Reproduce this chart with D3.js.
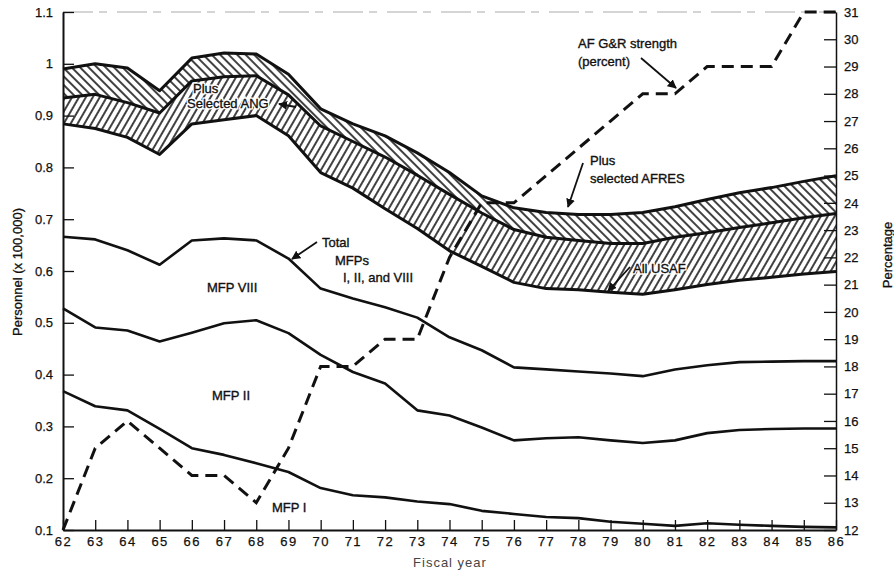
<!DOCTYPE html>
<meta charset="utf-8">
<style>
body { margin: 0; background: #fff; }
text { font-family: "Liberation Sans", Arial, sans-serif; font-size: 13px; fill: #111; }
.axis path, .axis line { stroke: #111; }
.axis text { font-size: 13px; fill: #111; stroke: #111; stroke-width: 0.25px; }
.band-line { fill: none; stroke: #111; stroke-width: 3px; stroke-linejoin: round; }
.mfp-line { fill: none; stroke: #111; stroke-width: 2.6px; stroke-linejoin: round; }
.pct-line { fill: none; stroke: #111; stroke-width: 3px; stroke-dasharray: 12,7; }
.note { fill: #111; stroke: #111; stroke-width: 0.35px; }
.halo { fill: #fff; stroke: #fff; stroke-width: 3px; }
.title { stroke: #111; stroke-width: 0.3px; }
.pointer { stroke: #111; stroke-width: 1.8px; fill: none; }
</style>
<svg width="894" height="571"></svg>
<script src="https://d3js.org/d3.v7.min.js"></script>
<script>

// fiscal years (19xx)
var years = [62, 63, 64, 65, 66, 67, 68, 69, 70, 71, 72, 73, 74, 75, 76, 77, 78, 79, 80, 81, 82, 83, 84, 85, 86];

// personnel (x 100,000), cumulative lines
var mfpI      = [0.368, 0.339, 0.331, 0.295, 0.258, 0.245, 0.229, 0.212, 0.181, 0.167, 0.163, 0.155, 0.150, 0.137, 0.131, 0.125, 0.123, 0.116, 0.112, 0.108, 0.113, 0.110, 0.108, 0.106, 0.105];
var mfpII     = [0.528, 0.491, 0.485, 0.464, 0.481, 0.499, 0.505, 0.480, 0.438, 0.405, 0.383, 0.331, 0.321, 0.298, 0.273, 0.277, 0.279, 0.273, 0.268, 0.273, 0.287, 0.293, 0.295, 0.296, 0.296];
var totalMfp  = [0.666, 0.661, 0.640, 0.612, 0.659, 0.663, 0.659, 0.624, 0.566, 0.547, 0.530, 0.510, 0.472, 0.447, 0.414, 0.410, 0.406, 0.402, 0.397, 0.410, 0.418, 0.424, 0.425, 0.426, 0.426];
var allUsaf   = [0.884, 0.875, 0.858, 0.825, 0.884, 0.892, 0.900, 0.861, 0.790, 0.760, 0.720, 0.682, 0.639, 0.609, 0.578, 0.566, 0.564, 0.559, 0.555, 0.564, 0.574, 0.582, 0.588, 0.594, 0.599];
var plusAng   = [0.934, 0.941, 0.925, 0.905, 0.967, 0.975, 0.977, 0.940, 0.880, 0.850, 0.820, 0.785, 0.748, 0.712, 0.680, 0.665, 0.659, 0.653, 0.653, 0.665, 0.674, 0.684, 0.693, 0.703, 0.711];
var plusAfres = [0.990, 1.000, 0.992, 0.948, 1.011, 1.021, 1.019, 0.980, 0.913, 0.884, 0.861, 0.828, 0.790, 0.745, 0.722, 0.713, 0.709, 0.709, 0.713, 0.724, 0.738, 0.751, 0.761, 0.773, 0.784];

// AF G&R strength (percent), right axis
var grPercent = [12, 15, 16, 15, 14, 14, 13, 15, 18, 18, 19, 19, 22, 24, 24, 25, 26, 27, 28, 28, 29, 29, 29, 31, 31];

var leftTicks  = [0.1, 0.2, 0.3, 0.4, 0.5, 0.6, 0.7, 0.8, 0.9, 1.0, 1.1];
var leftLabels = ["0.1", "0.2", "0.3", "0.4", "0.5", "0.6", "0.7", "0.8", "0.9", "1", "1.1"];
var rightTicks = [12, 13, 14, 15, 16, 17, 18, 19, 20, 21, 22, 23, 24, 25, 26, 27, 28, 29, 30, 31];

var svg = d3.select("svg");

var x = d3.scaleLinear().domain([62, 86]).range([63, 836]);
var y = d3.scaleLinear().domain([0.1, 1.1]).range([530, 12]);
var yPct = d3.scaleLinear().domain([12, 31]).range([530, 12]);

var defs = svg.append("defs");

function hatch(id, angle) {
  defs.append("pattern")
      .attr("id", id)
      .attr("patternUnits", "userSpaceOnUse")
      .attr("width", 6)
      .attr("height", 6)
      .attr("patternTransform", "rotate(" + angle + ")")
    .append("line")
      .attr("x1", 3).attr("y1", -1)
      .attr("x2", 3).attr("y2", 7)
      .attr("stroke", "#111")
      .attr("stroke-width", 1.6);
}
hatch("hatchBack", -45);  // "\" lines, AFRES band
hatch("hatchFwd", 30);    // "/" lines, ANG band

defs.append("marker")
    .attr("id", "head")
    .attr("viewBox", "0 0 10 10")
    .attr("refX", 9).attr("refY", 5)
    .attr("markerWidth", 5).attr("markerHeight", 5)
    .attr("markerUnits", "strokeWidth")
    .attr("orient", "auto")
  .append("path")
    .attr("d", "M0,0 L10,5 L0,10 z")
    .attr("fill", "#111");

function band(lo, hi) {
  return d3.area()
      .x(function(d, i) { return x(years[i]); })
      .y0(function(d, i) { return y(lo[i]); })
      .y1(function(d, i) { return y(hi[i]); })(years);
}

function line(vals, scale) {
  return d3.line()
      .x(function(d, i) { return x(years[i]); })
      .y(function(d, i) { return scale(vals[i]); })(years);
}

// top border (faded in the original)
svg.append("line")
    .attr("x1", 63).attr("x2", 836)
    .attr("y1", 12).attr("y2", 12)
    .attr("stroke", "#aaa")
    .attr("stroke-width", 1)
    .attr("stroke-dasharray", "30,6,8,10");

// hatched bands
svg.append("path").attr("d", band(allUsaf, plusAng)).attr("fill", "url(#hatchFwd)");
svg.append("path").attr("d", band(plusAng, plusAfres)).attr("fill", "url(#hatchBack)");

// solid lines
[mfpI, mfpII, totalMfp].forEach(function(v) {
  svg.append("path").attr("class", "mfp-line").attr("d", line(v, y));
});
[allUsaf, plusAng, plusAfres].forEach(function(v) {
  svg.append("path").attr("class", "band-line").attr("d", line(v, y));
});

// dashed percentage line
svg.append("path").attr("class", "pct-line").attr("d", line(grPercent, yPct));

// axes
var gx = svg.append("g")
    .attr("class", "axis")
    .attr("transform", "translate(0,530)")
    .call(d3.axisBottom(x).tickValues(years).tickFormat(d3.format("d"))
      .tickSize(-10).tickSizeOuter(0).tickPadding(7));
gx.select(".domain").attr("stroke-width", 2);
gx.selectAll(".tick line").attr("stroke-width", 1.3);
gx.selectAll("text").style("letter-spacing", "1.5px");

var gl = svg.append("g")
    .attr("class", "axis")
    .attr("transform", "translate(63,0)")
    .call(d3.axisLeft(y).tickValues(leftTicks)
      .tickFormat(function(d, i) { return leftLabels[i]; })
      .tickSize(-11).tickSizeOuter(0).tickPadding(10));
gl.select(".domain").attr("stroke-width", 2);
gl.selectAll(".tick line").attr("stroke-width", 1.3);

var gr = svg.append("g")
    .attr("class", "axis")
    .attr("transform", "translate(836,0)")
    .call(d3.axisRight(yPct).tickValues(rightTicks).tickFormat(d3.format("d"))
      .tickSize(-12).tickSizeOuter(0).tickPadding(8));
gr.select(".domain").attr("stroke-width", 1.5);
gr.selectAll(".tick line").attr("stroke-width", 1.3);

// axis titles
svg.append("text")
    .attr("class", "title")
    .attr("transform", "translate(22,272) rotate(-90)")
    .attr("text-anchor", "middle")
    .text("Personnel (x 100,000)");

svg.append("text")
    .attr("class", "title")
    .attr("transform", "translate(892,255) rotate(-90)")
    .attr("text-anchor", "middle")
    .text("Percentage");

svg.append("text")
    .attr("x", 450).attr("y", 567)
    .attr("text-anchor", "middle")
    .style("fill", "#444")
    .style("letter-spacing", "1px")
    .text("Fiscal year");

// annotations
var notes = [
  { t: "Plus", x: 193, y: 93, halo: true },
  { t: "Selected ANG", x: 187, y: 108, halo: true },
  { t: "AF G&R strength", x: 578, y: 48 },
  { t: "(percent)", x: 578, y: 66 },
  { t: "Plus", x: 590, y: 165 },
  { t: "selected AFRES", x: 590, y: 183 },
  { t: "All USAF", x: 633, y: 273, halo: true },
  { t: "Total", x: 322, y: 247 },
  { t: "MFPs", x: 335, y: 265 },
  { t: "I, II, and VIII", x: 343, y: 282 },
  { t: "MFP VIII", x: 207, y: 292 },
  { t: "MFP II", x: 212, y: 400 },
  { t: "MFP I", x: 272, y: 512 }
];

// white knock-out behind labels that sit on hatching
svg.selectAll(".halo")
    .data(notes.filter(function(d) { return d.halo; }))
    .enter().append("text")
      .attr("class", "halo")
      .attr("x", function(d) { return d.x; })
      .attr("y", function(d) { return d.y; })
      .text(function(d) { return d.t; });

svg.selectAll(".note")
    .data(notes)
    .enter().append("text")
      .attr("class", "note")
      .attr("x", function(d) { return d.x; })
      .attr("y", function(d) { return d.y; })
      .text(function(d) { return d.t; });

var pointers = [
  [296, 107, 279, 104],
  [641, 58, 676, 88],
  [583, 163, 568, 207],
  [630, 267, 608, 291],
  [317, 242, 292, 259]
];
svg.selectAll(".pointer")
    .data(pointers)
    .enter().append("line")
      .attr("class", "pointer")
      .attr("x1", function(d) { return d[0]; })
      .attr("y1", function(d) { return d[1]; })
      .attr("x2", function(d) { return d[2]; })
      .attr("y2", function(d) { return d[3]; })
      .attr("marker-end", "url(#head)");

</script>
